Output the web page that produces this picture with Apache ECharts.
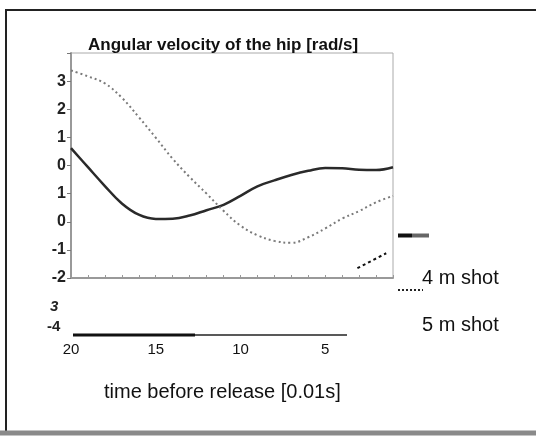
<!DOCTYPE html>
<html>
<head>
<meta charset="utf-8">
<script src="https://cdn.jsdelivr.net/npm/echarts@6/dist/echarts.min.js"></script>
<style>
html,body{margin:0;padding:0;background:#fff;}
#chart{width:536px;height:437px;}
</style>
</head>
<body>
<div id="chart"></div>
<script>
// time before release [0.01s]
var times = [20,19,18,17,16,15,14,13,12,11,10,9,8,7,6,5,4,3,2,1];
// 4 m shot (solid) and 5 m shot (dotted), rad/s
var shot4m = [0.62,-0.06,-0.73,-1.35,-1.75,-1.90,-1.89,-1.78,-1.59,-1.40,-1.08,-0.74,-0.53,-0.34,-0.19,-0.09,-0.10,-0.15,-0.16,-0.06];
var shot5m = [3.38,3.17,2.92,2.41,1.72,0.99,0.24,-0.41,-1.00,-1.61,-2.14,-2.48,-2.68,-2.75,-2.55,-2.24,-1.89,-1.62,-1.31,-1.08];
// stray short dotted stroke inside the plot
var strayX = [3.1,1.4];
var strayY = [-3.65,-3.12];
// tick labels as printed
var yTickValues = [-4,-3,-2,-1,0,1,2,3,4];
var yTickLabels = ["-2","-1","0","1","0","1","2","3",""];
var xTickValues = [20,15,10,5];
var xTickLabels = ["20","15","10","5"];
var extraYLabels = ["3","-4"];
var titleText = "Angular velocity of the hip [rad/s]";
var xTitle = "time before release [0.01s]";
var legendNames = ["4 m shot","5 m shot"];

function pairs(xs, ys){ return xs.map(function(x,i){ return [x, ys[i]]; }); }

var chart = echarts.init(document.getElementById('chart'), null, {renderer:'canvas'});
var font = '"Liberation Sans", Arial, sans-serif';
chart.setOption({
  backgroundColor:'#fff',
  animation:false,
  grid:{left:71, top:53, right:143, bottom:159, show:true, borderColor:'#aaa', borderWidth:1},
  xAxis:{
    type:'value', min:1, max:20, interval:1, inverse:true,
    axisLine:{show:true, onZero:false, lineStyle:{color:'#999', width:2}},
    axisTick:{show:true, inside:true, length:3, lineStyle:{color:'#999'}},
    splitLine:{show:false},
    axisLabel:{
      margin:64, color:'#111', fontSize:15, fontFamily:font,
      formatter:function(v){ var i = xTickValues.indexOf(v); return i>=0 ? xTickLabels[i] : ''; }
    }
  },
  yAxis:{
    type:'value', min:-4, max:4, interval:1,
    axisLine:{show:true, onZero:false, lineStyle:{color:'#999', width:2}},
    axisTick:{show:true, length:4, lineStyle:{color:'#777'}},
    splitLine:{show:false},
    axisLabel:{
      margin:5, color:'#222', fontSize:16, fontWeight:'bold', fontFamily:font,
      formatter:function(v){ var i = yTickValues.indexOf(v); return i>=0 ? yTickLabels[i] : ''; }
    }
  },
  series:[
    {name:legendNames[0], type:'line', data:pairs(times, shot4m), smooth:0.4, symbol:'none',
     lineStyle:{color:'#2a2a2a', width:2.5}},
    {name:legendNames[1], type:'line', data:pairs(times, shot5m), smooth:0.4, symbol:'none',
     lineStyle:{color:'#7a7a7a', width:2, type:[2,3]}},
    {name:'stray', type:'line', data:pairs(strayX, strayY), symbol:'none',
     lineStyle:{color:'#111', width:2, type:[3,3]}}
  ],
  graphic:[
    // outer frame
    {type:'line', shape:{x1:5, y1:10, x2:536, y2:10}, style:{stroke:'#222', lineWidth:2}},
    {type:'line', shape:{x1:6, y1:10, x2:6, y2:432}, style:{stroke:'#222', lineWidth:2}},
    {type:'line', shape:{x1:0, y1:433, x2:536, y2:433}, style:{stroke:'#8a8a8a', lineWidth:5}},
    // title
    {type:'text', left:88, top:37, z:10, style:{text:titleText, fill:'#111', font:'bold 17px '+font}},
    // extra y labels below the plot
    {type:'text', left:50, top:299, style:{text:extraYLabels[0], fill:'#222', font:'italic bold 15px '+font}},
    {type:'text', left:47, top:319, style:{text:extraYLabels[1], fill:'#222', font:'bold 15px '+font}},
    // black baseline above x labels
    {type:'line', shape:{x1:73, y1:335, x2:195, y2:335}, style:{stroke:'#111', lineWidth:3}},
    {type:'line', shape:{x1:195, y1:335, x2:347, y2:335}, style:{stroke:'#222', lineWidth:1.5}},
    // legend marks
    {type:'line', shape:{x1:398, y1:235.5, x2:412, y2:235.5}, style:{stroke:'#111', lineWidth:4}},
    {type:'line', shape:{x1:412, y1:235.5, x2:429, y2:235.5}, style:{stroke:'#666', lineWidth:4}},
    {type:'line', shape:{x1:398, y1:290, x2:423, y2:290}, style:{stroke:'#222', lineWidth:2, lineDash:[2,2]}},
    {type:'text', left:422, top:268, style:{text:legendNames[0], fill:'#111', font:'20px '+font}},
    {type:'text', left:422, top:315, style:{text:legendNames[1], fill:'#111', font:'20px '+font}},
    // x title
    {type:'text', left:104, top:382, style:{text:xTitle, fill:'#111', font:'20px '+font}}
  ]
});
</script>
</body>
</html>
